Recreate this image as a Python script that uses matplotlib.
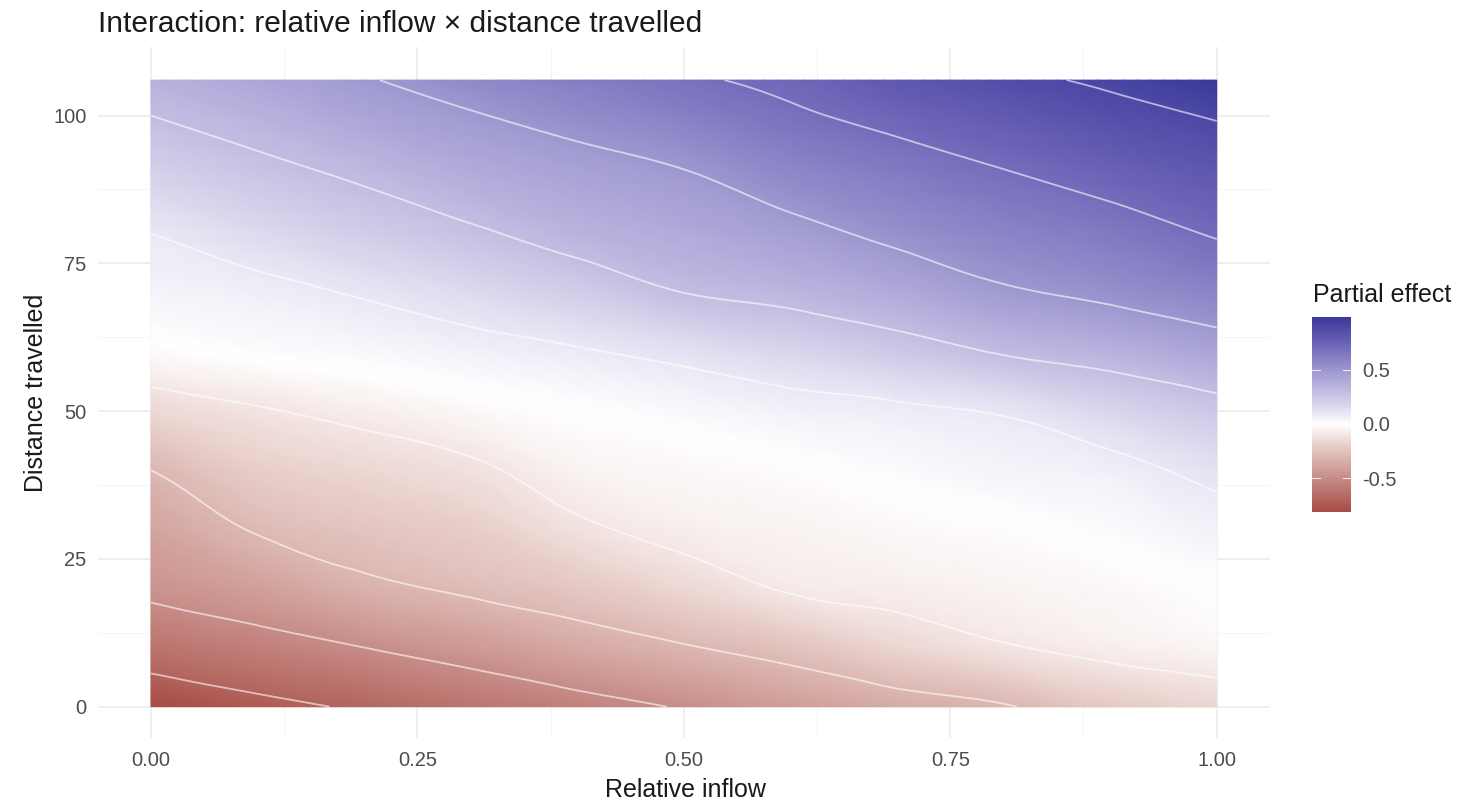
import numpy as np
import matplotlib
matplotlib.use("Agg")
import matplotlib.pyplot as plt
import matplotlib.tri as mtri
from matplotlib.colors import LinearSegmentedColormap, Normalize
from matplotlib.patches import Rectangle

plt.rcParams['font.family'] = ['Liberation Sans', 'DejaVu Sans']

inflow = [0.0, 0.1, 0.2, 0.3, 0.4, 0.5, 0.6, 0.7, 0.8, 0.9, 1.0]
distance = [0, 10, 20, 30, 40, 50, 60, 70, 80, 90, 100, 106]

# one row per distance value, one column per inflow value
effect = [
    [-0.81, -0.74, -0.68, -0.61, -0.55, -0.49, -0.42, -0.36, -0.31, -0.22, -0.17],
    [-0.62, -0.56, -0.50, -0.44, -0.37, -0.31, -0.25, -0.17, -0.11, -0.07, -0.04],
    [-0.47, -0.41, -0.33, -0.28, -0.23, -0.16, -0.09, -0.07, -0.05, -0.03, 0.00],
    [-0.39, -0.29, -0.24, -0.20, -0.12, -0.07, -0.05, -0.03, -0.01, 0.02, 0.06],
    [-0.30, -0.20, -0.16, -0.12, -0.05, -0.03, -0.01, 0.02, 0.05, 0.07, 0.13],
    [-0.16, -0.11, -0.07, -0.03, 0.00, 0.03, 0.06, 0.08, 0.11, 0.18, 0.25],
    [-0.02, 0.01, 0.03, 0.06, 0.09, 0.13, 0.18, 0.24, 0.31, 0.36, 0.43],
    [0.05, 0.07, 0.11, 0.16, 0.22, 0.30, 0.34, 0.40, 0.48, 0.53, 0.59],
    [0.10, 0.16, 0.22, 0.28, 0.35, 0.40, 0.46, 0.53, 0.59, 0.64, 0.71],
    [0.20, 0.26, 0.32, 0.39, 0.44, 0.49, 0.57, 0.63, 0.69, 0.75, 0.81],
    [0.30, 0.36, 0.43, 0.49, 0.55, 0.61, 0.68, 0.74, 0.80, 0.86, 0.91],
    [0.36, 0.42, 0.49, 0.56, 0.62, 0.68, 0.73, 0.81, 0.87, 0.92, 0.99],
]

contour_levels = [-0.7, -0.5, -0.3, -0.1, 0.1, 0.3, 0.5, 0.7, 0.9]
x_ticks = [0.0, 0.25, 0.5, 0.75, 1.0]
x_ticklabels = ["0.00", "0.25", "0.50", "0.75", "1.00"]
y_ticks = [0, 25, 50, 75, 100]
bar_ticks = [-0.5, 0.0, 0.5]
bar_ticklabels = ["-0.5", "0.0", "0.5"]

X, Y = np.meshgrid(inflow, distance)
Z = np.array(effect)

# split every grid cell along the same diagonal (lower right -> upper left)
ny, nx = Z.shape
cells = []
for i in range(ny - 1):
    for j in range(nx - 1):
        a, b = i * nx + j, i * nx + j + 1
        c, d = a + nx, b + nx
        cells.append([a, b, c])
        cells.append([b, d, c])

# smoother surface for drawing (x scaled so the cells are roughly square)
xs = 100.0
tri = mtri.Triangulation(X.ravel() * xs, Y.ravel(), cells)
interp = mtri.CubicTriInterpolator(tri, Z.ravel(), kind='geom')
tri_f, z_f = mtri.UniformTriRefiner(tri).refine_field(Z.ravel(), triinterpolator=interp, subdiv=3)
tri_f = mtri.Triangulation(tri_f.x / xs, tri_f.y, tri_f.triangles)

# gradient2-like palette, symmetric around zero
cmap = LinearSegmentedColormap.from_list("pe", [
    (0.00, "#8A2C2A"), (0.10, "#A9504A"), (0.25, "#C88E88"), (0.40, "#E8CECA"),
    (0.50, "#FFFFFF"),
    (0.60, "#D5D2EB"), (0.74, "#A39DD3"), (0.87, "#6F67B8"), (1.00, "#3B399B"),
])
lim = np.abs(Z).max()
norm = Normalize(-lim, lim)

W, H = 1457, 802
fig = plt.figure(figsize=(W / 100, H / 100), dpi=100)
ax = fig.add_axes([97.7 / W, 1 - 738 / H, (1270 - 97.7) / W, (738 - 47) / H])

ax.add_patch(Rectangle((min(inflow), min(distance)), max(inflow) - min(inflow),
                       max(distance) - min(distance), facecolor='white',
                       edgecolor='none', zorder=1.5))
ax.tripcolor(tri_f, z_f, cmap=cmap, norm=norm, shading='gouraud', zorder=2)
ax.tricontour(tri_f, z_f, levels=contour_levels, colors='white', linewidths=1.3,
              linestyles='solid', alpha=0.6, zorder=3)

ax.set_xlim(-0.05, 1.05)
ax.set_ylim(-5.3, 111.6)
ax.set_xticks(x_ticks)
ax.set_xticklabels(x_ticklabels)
ax.set_yticks(y_ticks)
ax.set_xticks([0.125, 0.375, 0.625, 0.875], minor=True)
ax.set_yticks([12.5, 37.5, 62.5, 87.5], minor=True)
ax.grid(which='major', color='#EBEBEB', linewidth=1.1, zorder=0)
ax.grid(which='minor', color='#F2F2F2', linewidth=0.6, zorder=0)
ax.set_axisbelow(True)
for s in ax.spines.values():
    s.set_visible(False)
ax.tick_params(which='both', length=0, labelsize=14.5, labelcolor='#4D4D4D')
ax.tick_params(axis='x', pad=9.5)
ax.tick_params(axis='y', pad=8)

fig.text(98 / W, 1 - 32 / H, "Interaction: relative inflow \u00d7 distance travelled",
         fontsize=21.5, color='#1A1A1A', ha='left', va='baseline')
fig.text(685 / W, 1 - 797 / H, "Relative inflow", fontsize=18, color='#1A1A1A',
         ha='center', va='baseline')
fig.text(43 / W, 1 - 393 / H, "Distance travelled", fontsize=18, color='#1A1A1A',
         ha='center', va='baseline', rotation=90, rotation_mode='anchor')

# legend bar
cax = fig.add_axes([1311.7 / W, 1 - 511.7 / H, 39 / W, 195 / H])
bar = np.linspace(Z.min(), Z.max(), 300).reshape(-1, 1)
cax.imshow(bar, cmap=cmap, norm=norm, origin='lower', aspect='auto',
           extent=[0, 1, Z.min(), Z.max()])
cax.set_xlim(0, 1)
cax.set_ylim(Z.min(), Z.max())
cax.set_xticks([])
cax.set_yticks(bar_ticks)
cax.set_yticklabels(bar_ticklabels)
cax.yaxis.tick_right()
cax.tick_params(axis='y', length=0, labelsize=14.5, labelcolor='#4D4D4D', pad=8)
for s in cax.spines.values():
    s.set_visible(False)
for t in bar_ticks:
    cax.plot([0, 0.2], [t, t], color='white', lw=0.8, alpha=0.8)
    cax.plot([0.8, 1], [t, t], color='white', lw=0.8, alpha=0.8)
fig.text(1313 / W, 1 - 302 / H, "Partial effect", fontsize=18, color='#1A1A1A',
         ha='left', va='baseline')

fig.savefig("out.png", dpi=100, facecolor='white')
